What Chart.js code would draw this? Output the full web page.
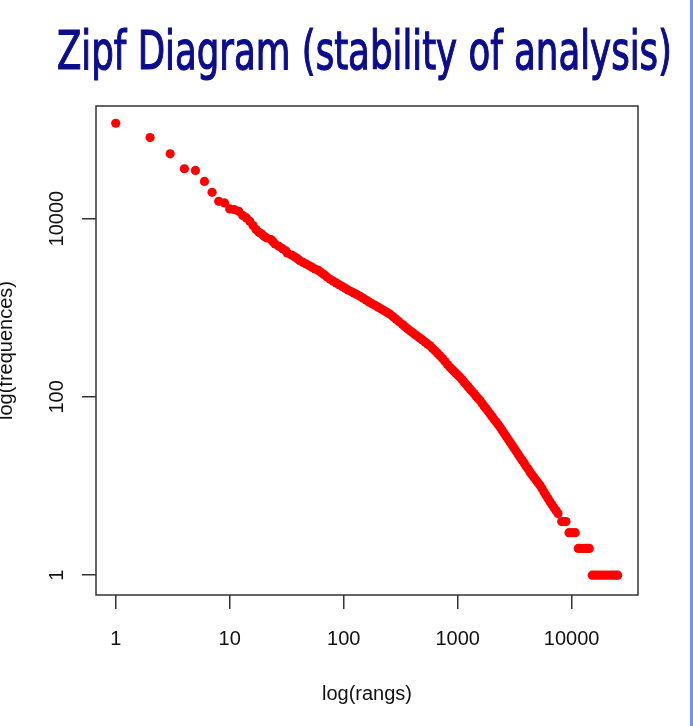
<!DOCTYPE html>
<html><head><meta charset="utf-8">
<script src="https://cdn.jsdelivr.net/npm/chart.js@4.4.0/dist/chart.umd.min.js"></script>
<style>
html,body{margin:0;padding:0;background:#fff;width:693px;height:726px;overflow:hidden;}
#wrap{position:absolute;left:0;top:0;width:693px;height:726px;}
#title{position:absolute;left:57px;top:24px;font-family:"Liberation Sans Narrow","Arial Narrow","DejaVu Sans Condensed",sans-serif;font-weight:normal;-webkit-text-stroke:1.2px #0c0c8c;font-size:53px;line-height:1;color:#0c0c8c;white-space:nowrap;transform-origin:0 0;}
#edge{position:absolute;left:690px;top:0;width:3px;height:726px;background:#6f92f5;}
</style></head>
<body>
<div id="wrap"><canvas id="c" width="693" height="726"></canvas></div>
<div id="title">Zipf Diagram (stability of analysis)</div>
<div id="edge"></div>
<script>
const ranks = [1,2,3,4,5,6,7,8,9,10,11,12,13,14,15,16,17,18,19,20,
 21,23,24,25,27,29,31,32,35,37,39,41,44,47,50,53,56,60,63,67,71,76,81,86,91,
 97,103,109,116,123,131,139,148,157,167,177,188,200,212,226,240,255,271,288,306,
 328,345,363,382,401,422,444,467,491,517,543,572,601,632,665,699,736,774,814,856,
 891,928,966,1006,1048,1091,1136,1183,1231,1282,1335,1390,1447,1507,1569,1634,1701,1771,1844,1920,1999,2082,2168,2257,2350,
 2447,2548,2653,2762,2876,2995,3118,3247,3380,3520,3664,3815,3972,4137,4307,4485,4670,4862,5063,5272,5489,5715,5952,6197,6451,6718,6993,7284,7583,
 8172,8560,8913,9470,10060,10750,11430,12070,12820,13540,14270,
 15160,16010,17010,18070,19200,20400,21680,23030,24230,25320];
const freqs = [117300,81000,53200,36200,34650,26100,19700,15600,14970,12830,12600,12070,10800,10180,9330,8350,7540,7030,6750,6340,
 6087,5828,5506,5190,4890,4598,4345,4106,3900,3734,3574,3394,3224,3086,2954,2835,2720,2618,2493,2367,2220,2082,1988,1898,1812,
 1734,1656,1585,1521,1459,1401,1345,1280,1219,1161,1111,1064,1016,972,928,886,846,793,744,698,
 648,613,581,551,526,501,478,456,435,413,393,374,351,329,309,289,269,249,231,215,
 204,194,184,175,166,156.5,147.1,138.7,130.4,122.9,115.8,108.9,102.6,96.5,90.9,84.8,79.3,74.0,69.2,64.6,60.3,56.3,52.6,49.2,45.9,
 42.5,39.3,36.4,33.7,31.2,28.9,26.7,24.7,22.9,21.2,19.6,18.2,16.8,15.6,14.4,13.4,12.5,11.7,10.9,10.2,9.4,8.6,7.9,7.25,6.66,6.17,5.71,5.32,4.93,
 4,4,4,3,3,3,2,2,2,2,2,
 1,1,1,1,1,1,1,1,1,1];
const xTicks = [1,10,100,1000,10000];
const yTicks = [1,100,10000];
const xLabel = 'log(rangs)';
const yLabel = 'log(frequences)';

// fit title width
const t = document.getElementById('title');
const w = t.getBoundingClientRect().width;
t.style.transform = 'scaleX(' + (615 / w) + ')';

const pts = ranks.map((r, i) => ({x: r, y: freqs[i]}));
const fnt = {family: '"Liberation Sans", Arial, sans-serif', size: 20};
const boxPlugin = {id: 'box', afterDraw(chart) {
  const {ctx, chartArea: a} = chart;
  ctx.save(); ctx.strokeStyle = '#333'; ctx.lineWidth = 1.5;
  ctx.strokeRect(a.left, a.top, a.right - a.left, a.bottom - a.top);
  ctx.restore();
}};
new Chart(document.getElementById('c'), {
  type: 'scatter',
  data: {datasets: [{data: pts, backgroundColor: '#ff0000', borderWidth: 0, pointRadius: 4.6, pointHoverRadius: 4.6}]},
  options: {
    responsive: false, animation: false, devicePixelRatio: 1,
    layout: {padding: {top: 106, right: 55, left: 0, bottom: 0}},
    plugins: {legend: {display: false}, tooltip: {enabled: false}},
    scales: {
      x: {type: 'logarithmic', min: 0.671, max: 38190,
        afterBuildTicks: s => { s.ticks = xTicks.map(v => ({value: v})); },
        afterFit: s => { s.height = 131; },
        grid: {drawOnChartArea: false, drawTicks: true, tickLength: 14, color: '#333', lineWidth: 1.5},
        border: {display: false},
        ticks: {autoSkip: false, maxRotation: 0, minRotation: 0, padding: 18, color: '#111', font: fnt, callback: v => String(v)},
        title: {display: true, text: xLabel, color: '#111', font: fnt, padding: {top: 0, bottom: 20}}
      },
      y: {type: 'logarithmic', min: 0.629, max: 183100,
        afterBuildTicks: s => { s.ticks = yTicks.map(v => ({value: v})); },
        afterFit: s => { s.width = 96; },
        grid: {drawOnChartArea: false, drawTicks: true, tickLength: 14, color: '#333', lineWidth: 1.5},
        border: {display: false},
        ticks: {autoSkip: false, minRotation: 90, maxRotation: 90, crossAlign: 'center', padding: -3, color: '#111', font: fnt, callback: v => String(v)},
        title: {display: true, text: yLabel, color: '#111', font: fnt, padding: {top: -6, bottom: 0}}
      }
    }
  },
  plugins: [boxPlugin]
});
</script>
</body></html>
